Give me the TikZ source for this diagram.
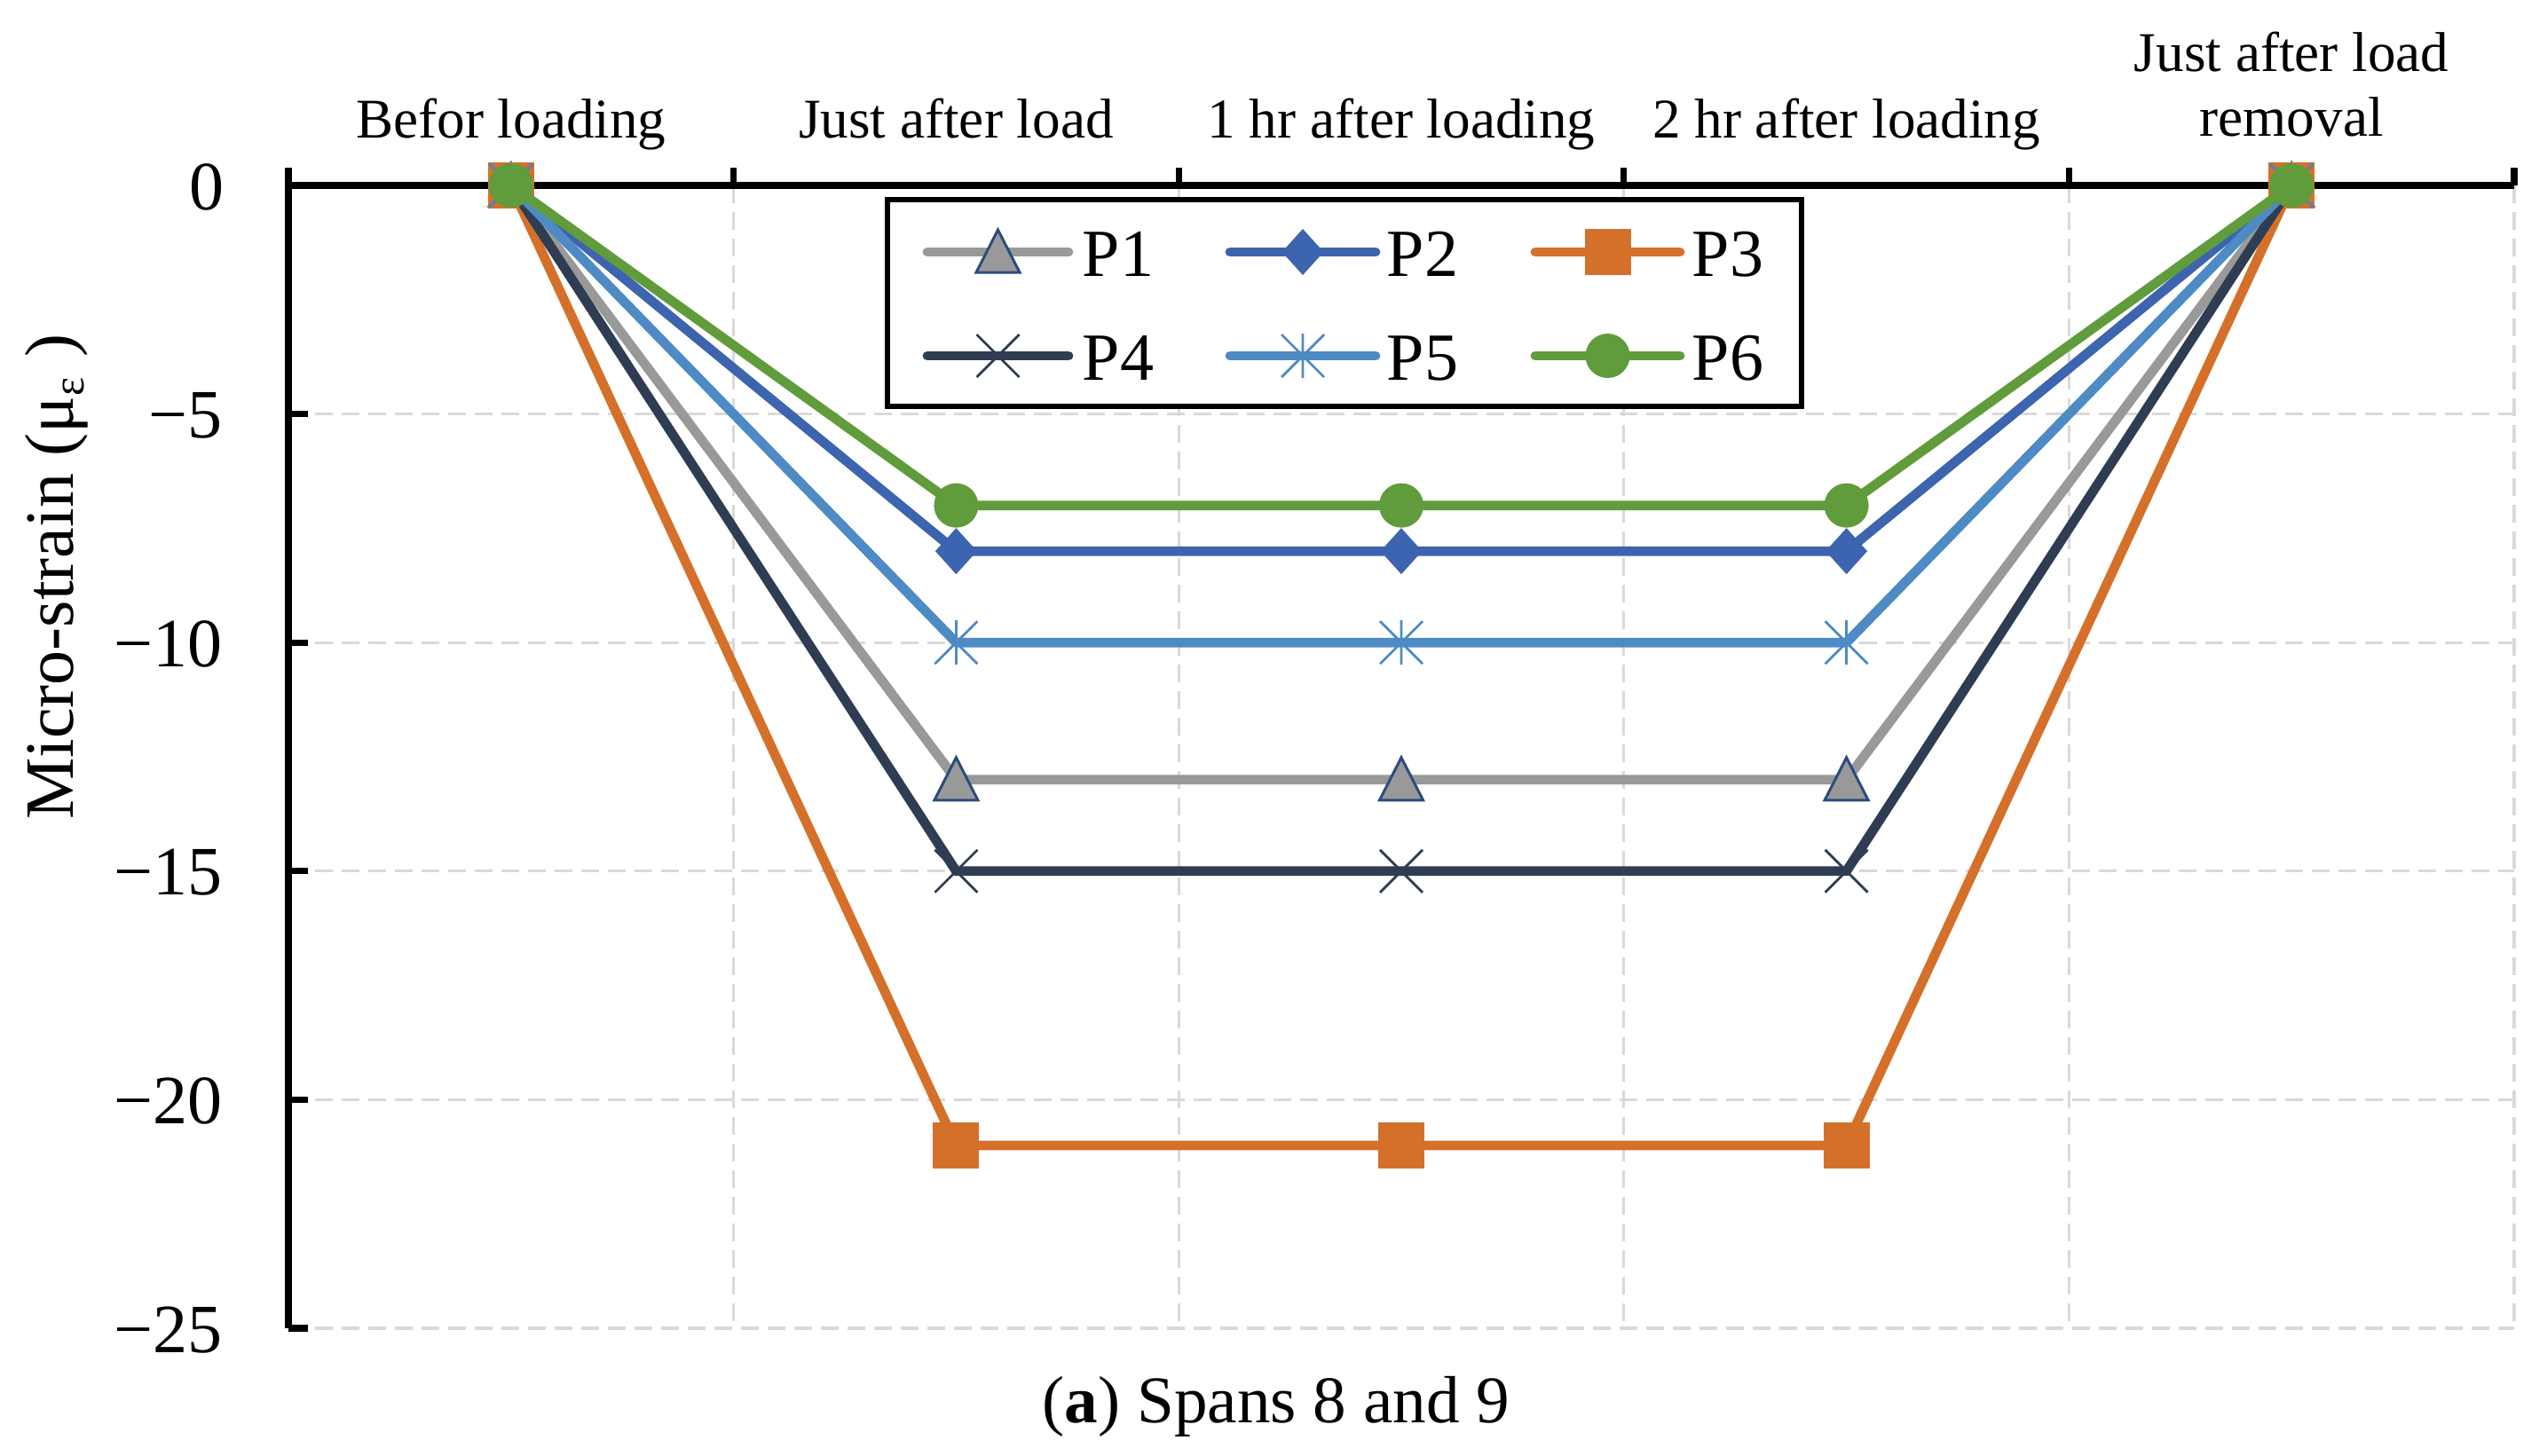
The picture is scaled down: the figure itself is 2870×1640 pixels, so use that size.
\documentclass[tikz,border=0pt]{standalone}
\usepackage{fontspec}
\setmainfont{Liberation Serif}
\usetikzlibrary{calc}
\definecolor{cPa}{HTML}{999999}
\definecolor{cPae}{HTML}{2A4D7E}
\definecolor{cPb}{HTML}{3D64AE}
\definecolor{cPc}{HTML}{D5702B}
\definecolor{cPd}{HTML}{2F3D52}
\definecolor{cPe}{HTML}{4E8BC4}
\definecolor{cPf}{HTML}{609C3C}
\definecolor{gridc}{HTML}{D9D9D9}
\tikzset{
  mtri/.pic={\path[fill=cPa,draw=cPae,line width=0.75pt,line join=miter] (0,-25)--(24.5,23)--(-24.5,23)--cycle;},
  mdia/.pic={\fill[cPb] (0,-26)--(23.5,0)--(0,26)--(-23.5,0)--cycle;},
  msq/.pic={\fill[cPc] (-26,-26) rectangle (26,26);},
  mxx/.pic={\draw[cPd,line width=0.7pt] (-24,-24)--(24,24) (-24,24)--(24,-24);},
  mast/.pic={\draw[cPe,line width=0.7pt] (-24,-24)--(24,24) (-24,24)--(24,-24) (0,-25)--(0,25);},
  mcirc/.pic={\fill[cPf] (0,0) circle[radius=25];}
}
\begin{document}
\begin{tikzpicture}[x=0.25pt,y=-0.25pt,
  ser/.style={line width=2.7pt, line join=round, line cap=round},
  gridline/.style={gridc, line width=0.8pt, dash pattern=on 5pt off 2.5pt},
  axisline/.style={black, line width=1.8pt},
  ticklab/.style={font=\fontsize{19.5}{23}\selectfont, inner sep=0pt, anchor=base east},
  catlab/.style={font=\fontsize{15.8}{18.25}\selectfont, inner sep=0pt, anchor=base},
  leglab/.style={font=\fontsize{19}{23}\selectfont, inner sep=0pt, anchor=base west}]
\useasboundingbox (0,0) rectangle (2870,1640);
% grid
\foreach \i in {1,...,5} \draw[gridline] ({325+501.6*\i},209) -- ({325+501.6*\i},1497);
\foreach \v in {5,10,...,25} \draw[gridline] (325,{209+51.52*\v}) -- (2833,{209+51.52*\v});
% axes
\coordinate (ybot) at (325,1497);
\coordinate (orig) at (325,209);
\coordinate (xend) at (2833,209);
\draw[axisline] (ybot) -- (orig) -- (xend);
\foreach \i in {0,...,5} \draw[axisline] ({325+501.6*\i},209) -- ({325+501.6*\i},189);
\foreach \v in {5,10,...,25} \draw[axisline] (325,{209+51.52*\v}) -- (347,{209+51.52*\v});
% tick labels
\node[ticklab] (yt0) at (253,236) {0};
\foreach \v in {5,10,...,25} \node[ticklab] (yt\v) at (251,{209+51.52*\v+27}) {−\v};
% category labels
\node[catlab] (cat1) at (575.8,155) {Befor loading};
\node[catlab] (cat2) at (1077.4,155) {Just after load};
\node[catlab] (cat3) at (1579,155) {1 hr after loading};
\node[catlab] (cat4) at (2080.6,155) {2 hr after loading};
\node[catlab] (cat5) at (2582.2,153) {\begin{tabular}[b]{@{}c@{}}Just after load\\removal\end{tabular}};
% axis title
\node[font=\fontsize{19.5}{23}\selectfont, rotate=90, anchor=base, inner sep=0pt] (ylab) at (82,650)
  {Micro-strain (μ\raisebox{-0.35ex}{\fontsize{12.5}{14}\selectfont ε}\hspace{0.3em})};
% caption
\node[font=\fontsize{18.8}{22}\selectfont, anchor=base, inner sep=0pt] (cap) at (1438,1603) {(\textbf{a}) Spans 8 and 9};
% data coordinates
\foreach \s/\v in {a/13,b/8,c/21,d/15,e/10,f/7} {
  \coordinate (\s1) at (575.8,209);
  \coordinate (\s2) at (1077.4,{209+51.52*\v});
  \coordinate (\s3) at (1579,{209+51.52*\v});
  \coordinate (\s4) at (2080.6,{209+51.52*\v});
  \coordinate (\s5) at (2582.2,209);
}
% P1
\draw[ser,cPa] (a1)--(a2)--(a3)--(a4)--(a5);
\foreach \i in {1,...,5} \pic at (a\i) {mtri};
% P2
\draw[ser,cPb] (b1)--(b2)--(b3)--(b4)--(b5);
\foreach \i in {1,...,5} \pic at (b\i) {mdia};
% P3
\draw[ser,cPc] (c1)--(c2)--(c3)--(c4)--(c5);
\foreach \i in {1,...,5} \pic at (c\i) {msq};
% P4
\draw[ser,cPd] (d1)--(d2)--(d3)--(d4)--(d5);
\foreach \i in {1,...,5} \pic at (d\i) {mxx};
% P5
\draw[ser,cPe] (e1)--(e2)--(e3)--(e4)--(e5);
\foreach \i in {1,...,5} \pic at (e\i) {mast};
% P6
\draw[ser,cPf] (f1)--(f2)--(f3)--(f4)--(f5);
\foreach \i in {1,...,5} \pic at (f\i) {mcirc};
% legend
\coordinate (lgA) at (1000,225);
\coordinate (lgB) at (2030,458);
\draw[line width=1.5pt, fill=white] (lgA) rectangle (lgB);
\foreach \col/\xa/\xb/\xt/\row/\clr/\mk/\lab in {
   0/1045/1204/1219/284/cPa/mtri/P1,
   1/1386/1550/1562/284/cPb/mdia/P2,
   2/1730/1893/1906/284/cPc/msq/P3,
   3/1045/1204/1219/401/cPd/mxx/P4,
   4/1386/1550/1562/401/cPe/mast/P5,
   5/1730/1893/1906/401/cPf/mcirc/P6} {
  \coordinate (la\col) at (\xa,\row);
  \coordinate (lb\col) at (\xb,\row);
  \draw[ser,\clr] (la\col) -- (lb\col);
  \pic at ($(la\col)!0.5!(lb\col)$) {\mk};
  \node[leglab] (lt\col) at (\xt,\row+27) {\lab};
}
\end{tikzpicture}
\end{document}
